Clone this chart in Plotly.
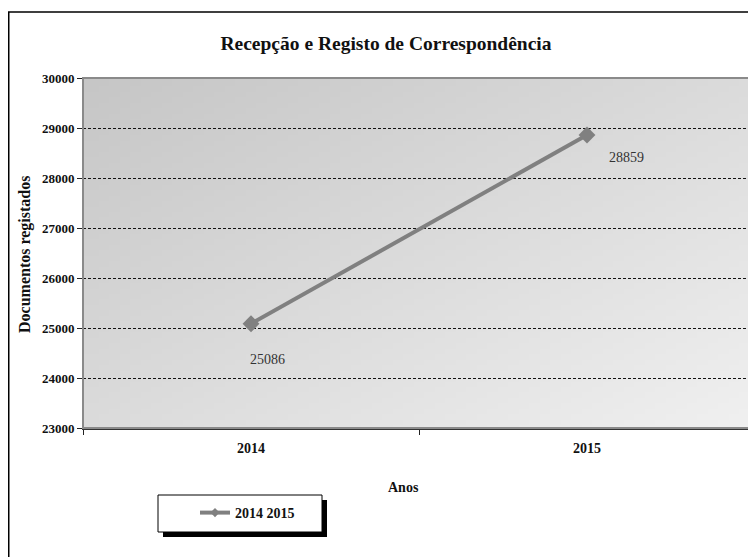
import base64
import struct
import zlib

import plotly.graph_objects as go

# ---- data ----
years = ["2014", "2015"]
documents = [25086, 28859]
series_name = "2014 2015"
y_ticks = [23000, 24000, 25000, 26000, 27000, 28000, 29000, 30000]
title_text = "Recepção e Registo de Correspondência"
x_title = "Anos"
y_title = "Documentos registados"

# ---- geometry (pixels, in page coordinates; page body has 8px margin) ----
OFF = 8
W, H = 756 - OFF, 557 - OFF
L, R, T, B = 83 - OFF, 755 - OFF, 78 - OFF, 428 - OFF
FONT = "Liberation Serif, Times New Roman, serif"


def px(xp):
    return (xp - OFF - L) / (R - L)


def py(yp):
    return (B - (yp - OFF)) / (B - T)


def gradient_png(n=64, c0=0xC6, c1=0xF0):
    rows = []
    for j in range(n):
        row = bytearray([0])
        for i in range(n):
            t = 0.5 * i / (n - 1) + 0.5 * j / (n - 1)
            row.append(int(round(c0 + (c1 - c0) * t)))
        rows.append(bytes(row))
    raw = b"".join(rows)

    def chunk(tag, data):
        c = struct.pack(">I", len(data)) + tag + data
        return c + struct.pack(">I", zlib.crc32(tag + data) & 0xFFFFFFFF)

    png = (b"\x89PNG\r\n\x1a\n"
           + chunk(b"IHDR", struct.pack(">IIBBBBB", n, n, 8, 0, 0, 0, 0))
           + chunk(b"IDAT", zlib.compress(raw))
           + chunk(b"IEND", b""))
    return "data:image/png;base64," + base64.b64encode(png).decode()


fig = go.Figure()
fig.add_trace(go.Scatter(
    x=years, y=documents, name=series_name, mode="lines+markers",
    line=dict(color="#808080", width=4),
    marker=dict(symbol="diamond", size=13, color="#808080"),
    showlegend=False,
))
# legend entry (no data points, only the legend symbol)
fig.add_trace(go.Scatter(
    x=[None], y=[None], name="<b>%s</b>" % series_name, mode="lines+markers",
    line=dict(color="#808080", width=4),
    marker=dict(symbol="diamond", size=7, color="#808080"),
    showlegend=True, hoverinfo="skip",
))

# data labels
label_shifts = [(16, -36), (39, -22)]
for i, (yv, (dx, dy)) in enumerate(zip(documents, label_shifts)):
    fig.add_annotation(x=i, y=yv, xref="x", yref="y", text=str(yv),
                       showarrow=False, xshift=dx, yshift=dy,
                       font=dict(family=FONT, size=14, color="#333333"))

# axis titles
fig.add_annotation(xref="paper", yref="paper", x=px(403), y=py(487),
                   xanchor="center", yanchor="middle",
                   text="<b>%s</b>" % x_title, showarrow=False,
                   font=dict(family=FONT, size=14, color="#111111"))
fig.add_annotation(xref="paper", yref="paper", x=px(25), y=py(255),
                   xanchor="center", yanchor="middle",
                   text="<b>%s</b>" % y_title, showarrow=False, textangle=-90,
                   font=dict(family=FONT, size=16, color="#111111"))

shapes = [
    # outer chart border
    dict(type="rect", xref="paper", yref="paper", x0=px(8.75), x1=px(780),
         y0=py(580), y1=py(12), line=dict(color="black", width=1.5),
         fillcolor="rgba(0,0,0,0)", layer="above"),
    # plot area border
    dict(type="rect", xref="paper", yref="paper", x0=0, x1=1, y0=0, y1=1,
         line=dict(color="#8a8a8a", width=2), fillcolor="rgba(0,0,0,0)",
         layer="above"),
    # legend shadow and box
    dict(type="rect", xref="paper", yref="paper", x0=px(163), x1=px(327),
         y0=py(537), y1=py(500), line=dict(width=0), fillcolor="black",
         layer="above"),
    dict(type="rect", xref="paper", yref="paper", x0=px(158), x1=px(322),
         y0=py(532), y1=py(495), line=dict(color="black", width=1),
         fillcolor="white", layer="above"),
]

fig.update_layout(
    width=W, height=H,
    margin=dict(l=L, r=W - R, t=T, b=H - B),
    paper_bgcolor="white", plot_bgcolor="rgba(0,0,0,0)",
    title=dict(text="<b>%s</b>" % title_text, x=(386 - OFF) / W,
               xanchor="center", y=1 - (43 - OFF) / H, yanchor="middle",
               xref="container", yref="container",
               font=dict(family=FONT, size=19.5, color="#111111")),
    font=dict(family=FONT, color="#111111"),
    shapes=shapes,
    images=[dict(source=gradient_png(), xref="x domain", yref="y domain",
                 x=0, y=1, sizex=1, sizey=1, sizing="stretch",
                 xanchor="left", yanchor="top", layer="below")],
    legend=dict(x=px(195), y=py(513), xanchor="left", yanchor="middle",
                bgcolor="rgba(0,0,0,0)", borderwidth=0,
                font=dict(family=FONT, size=14, color="#111111"),
                itemsizing="trace"),
    xaxis=dict(type="category", range=[-0.5, 1.5], tickson="boundaries",
               ticks="outside", ticklen=5, tickcolor="#222222",
               showline=True, linecolor="#333333", linewidth=2,
               showgrid=False, zeroline=False,
               tickvals=years, ticktext=["<b>%s</b>" % y for y in years],
               tickfont=dict(family=FONT, size=14, color="#111111"),
               ticklabelstandoff=6),
    yaxis=dict(range=[23000, 30000], tickvals=y_ticks,
               ticktext=["<b>%d</b>" % v for v in y_ticks],
               ticks="outside", ticklen=5, tickcolor="#222222",
               showline=True, linecolor="#444444", linewidth=1,
               showgrid=True, gridcolor="#111111", gridwidth=1,
               griddash="3px,2px", zeroline=False,
               tickfont=dict(family=FONT, size=13, color="#111111")),
)

fig.write_html("out.html")
